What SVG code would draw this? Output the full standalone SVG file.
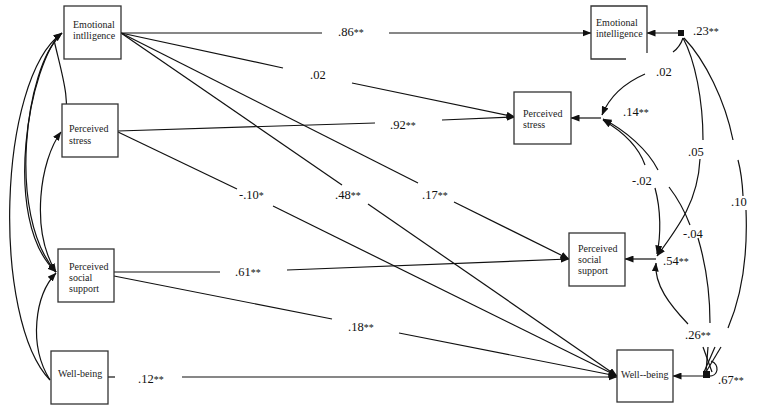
<svg xmlns="http://www.w3.org/2000/svg" width="761" height="409" viewBox="0 0 761 409">
<style>
.box{fill:#fff;stroke:#333;stroke-width:1.3}
.nt{font-family:"Liberation Serif","DejaVu Serif",serif;font-size:10px;fill:#222}
.lb{font-family:"Liberation Serif","DejaVu Serif",serif;font-size:12.5px;fill:#111}
.s{font-size:10px}
.ln{fill:none;stroke:#111;stroke-width:1.2}
.ar{marker-end:url(#a)}
.as{marker-start:url(#a)}
</style>
<defs>
<marker id="a" markerUnits="userSpaceOnUse" markerWidth="9" markerHeight="7" refX="8.5" refY="3.5" orient="auto-start-reverse">
<path d="M0,0 L9,3.5 L0,7 z" fill="#111"/>
</marker>
</defs>
<rect width="761" height="409" fill="#fff"/>

<g id="connectors">
<path class="ln" d="M121 33 L322 33"/><path class="ln ar" d="M389 33 L591 33"/>
<path class="ln" d="M121 33 L283 68"/><path class="ln ar" d="M352 83 L515 117"/>
<path class="ln" d="M118 131 L375 123"/><path class="ln ar" d="M442 120 L515 117"/>
<path class="ln" d="M118 132 L237 189"/><path class="ln ar" d="M273 206 L617 376"/>
<path class="ln" d="M121 33 L342 185"/><path class="ln ar" d="M368 204 L617 376"/>
<path class="ln" d="M121 33 L418 183"/><path class="ln ar" d="M454 202 L569 259"/>
<path class="ln" d="M114 272 L220 272"/><path class="ln ar" d="M287 270 L569 259"/>
<path class="ln" d="M114 276 L332 319"/><path class="ln ar" d="M399 333 L617 376"/>
<path class="ln" d="M108 377 L115 377"/><path class="ln ar" d="M182 377 L617 377"/>
<path class="ln ar" d="M54 40 C62 75 71 100 64 127"/>
<path class="ln as ar" d="M61 132 C40 160 30 230 56 272"/>
<path class="ln as ar" d="M62 33 C30 60 0 220 56 272"/>
<path class="ln" d="M60 36 C26 66 6 215 56 272"/>
<path class="ln as" d="M62 33 C-3 80 -8 320 50 380"/>
<path class="ln as" d="M56 273 C35 295 28 345 50 380"/>
<path class="ln ar" d="M681 33 L647 33"/>
<path class="ln ar" d="M601 118 L571 118"/>
<path class="ln ar" d="M656 259 L625 259"/>
<path class="ln ar" d="M707 376 L673 376"/>
<rect x="678" y="30" width="6" height="6" fill="#111"/>
<rect x="703" y="371" width="7" height="7" fill="#111"/>
<path class="ln" d="M683 38 Q680 47 673 52"/>
<path class="ln ar" d="M645 74 Q613 88 602 115"/>
<path class="ln" d="M683 38 C695 60 703 100 703 140"/>
<path class="ln ar" d="M700 159 C698 200 680 225 657 256"/>
<path class="ln" d="M684 38 C705 60 725 100 733 140"/>
<path class="ln" d="M738 160 Q742 175 743 196"/>
<path class="ln" d="M746 210 C748 260 740 300 728 328"/>
<path class="ln as" d="M603 120 C620 130 638 145 645 165"/>
<path class="ln ar" d="M655 188 C661 210 661 235 657 254"/>
<path class="ln as" d="M603 119 C625 130 648 150 658 170"/>
<path class="ln" d="M669 187 Q682 204 690 225"/>
<path class="ln" d="M698 238 C706 265 710 295 710 323"/>
<path class="ln as" d="M656 263 C654 285 670 305 688 324"/>
<path class="ln" d="M703 347 L712 372"/>
<path class="ln" d="M708 347 L706 372"/>
<path class="ln" d="M715 347 L704 372"/>
<path class="ln" d="M721 347 L706 372"/>
<path class="ln" d="M711 361 C720 364 719 377 708 376"/>
</g>

<g id="labels">
<text class="lb" x="338" y="36">.86<tspan class="s">**</tspan></text>
<text class="lb" x="310" y="79">.02</text>
<text class="lb" x="390" y="129">.92<tspan class="s">**</tspan></text>
<text class="lb" x="239" y="199">-.10<tspan class="s">*</tspan></text>
<text class="lb" x="335" y="199">.48<tspan class="s">**</tspan></text>
<text class="lb" x="422" y="199">.17<tspan class="s">**</tspan></text>
<text class="lb" x="235" y="276">.61<tspan class="s">**</tspan></text>
<text class="lb" x="348" y="331">.18<tspan class="s">**</tspan></text>
<text class="lb" x="138" y="383">.12<tspan class="s">**</tspan></text>
<text class="lb" x="693" y="35">.23<tspan class="s">**</tspan></text>
<text class="lb" x="656" y="76">.02</text>
<text class="lb" x="623" y="116">.14<tspan class="s">**</tspan></text>
<text class="lb" x="688" y="156">.05</text>
<text class="lb" x="632" y="185">-.02</text>
<text class="lb" x="731" y="206">.10</text>
<text class="lb" x="683" y="238">-.04</text>
<text class="lb" x="663" y="265">.54<tspan class="s">**</tspan></text>
<text class="lb" x="685" y="339">.26<tspan class="s">**</tspan></text>
<text class="lb" x="718" y="384">.67<tspan class="s">**</tspan></text>
</g>

<g id="ei-left"><rect class="box" x="64" y="6" width="57" height="53"/><text class="nt" x="73" y="28">Emotional</text><text class="nt" x="73" y="39">intlligence</text></g>
<g id="ps-left"><rect class="box" x="62" y="104" width="56" height="53"/><text class="nt" x="69" y="132">Perceived</text><text class="nt" x="69" y="144">stress</text></g>
<g id="pss-left"><rect class="box" x="58" y="249" width="56" height="53"/><text class="nt" x="69" y="270">Perceived</text><text class="nt" x="69" y="281">social</text><text class="nt" x="69" y="292">support</text></g>
<g id="wb-left"><rect class="box" x="51" y="351" width="57" height="53"/><text class="nt" x="58" y="377">Well-being</text></g>

<g id="ei-right"><path class="box" d="M626 59 L591 59 L591 6 L647 6 L647 53"/><text class="nt" x="596" y="26">Emotional</text><text class="nt" x="596" y="37">intelligence</text></g>
<g id="ps-right"><rect class="box" x="514" y="92" width="57" height="52"/><text class="nt" x="523" y="117">Perceived</text><text class="nt" x="523" y="128">stress</text></g>
<g id="pss-right"><rect class="box" x="569" y="233" width="56" height="53"/><text class="nt" x="578" y="252">Perceived</text><text class="nt" x="578" y="263">social</text><text class="nt" x="578" y="274">support</text></g>
<g id="wb-right"><rect class="box" x="617" y="350" width="56" height="52"/><text class="nt" x="621" y="378">Well--being</text></g>
</svg>
